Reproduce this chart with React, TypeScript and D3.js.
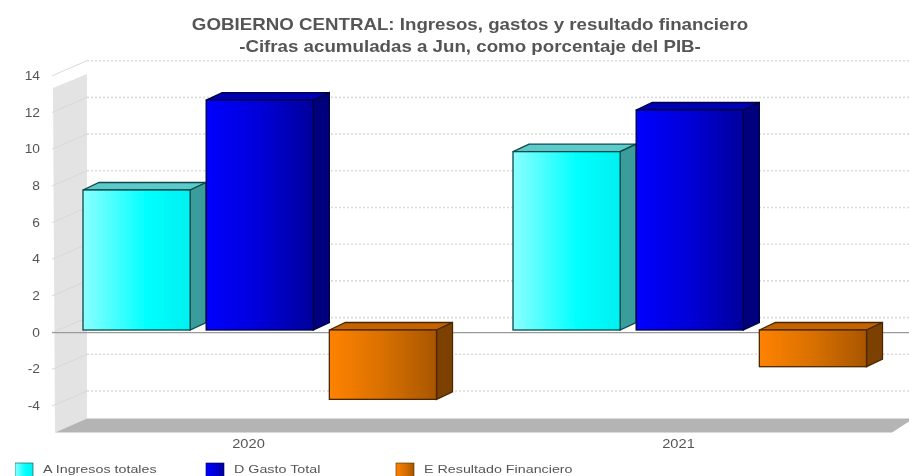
import React from "react";
import * as d3 from "d3";

const years = ["2020", "2021"];
const seriesNames = ["A Ingresos totales", "D Gasto Total", "E Resultado Financiero"];
const ingresos = [7.63, 9.72];
const gasto = [12.53, 11.99];
const resultado = [-3.78, -2.0];
const yTicks = [14, 12, 10, 8, 6, 4, 2, 0, -2, -4];
const titleLines = [
  "GOBIERNO CENTRAL: Ingresos, gastos y resultado financiero",
  "-Cifras acumuladas a Jun, como porcentaje del PIB-",
];

const seriesValues = [ingresos, gasto, resultado];
const looks = [
  { c0: "#8cffff", c1: "#00ffff", c2: "#00f0f0", side: "#3a9c9c", top: "#5ccaca", edge: "#0a4a4a" },
  { c0: "#0000ff", c1: "#0000d8", c2: "#00009c", side: "#00007e", top: "#0000b4", edge: "#000040" },
  { c0: "#ff8200", c1: "#d87000", c2: "#a85600", side: "#7c4000", top: "#c46400", edge: "#4a2800" },
];

const W = 909;
const H = 476;
const FONT = "'Liberation Sans', Arial, sans-serif";

const y = d3.scaleLinear().domain([0, 14]).range([0, -256.9]);
const yBack = (v: number) => 317.6 + y(v);
const yFront = (v: number) => 332.7 + y(v);
const yBar = (v: number) => 330 + y(v);

const xGroup = d3.scaleBand().domain(years).range([33, 893]);
const xBar = d3.scaleBand().domain(seriesNames).range([50, 403.5]).paddingInner(0.13).paddingOuter(0);

const depthX = 16;
const depthY = 7.5;

function Label({ x, y: ty, sx, size, anchor, weight, children }: any) {
  return (
    <text
      transform={`translate(${x},${ty}) scale(${sx},1)`}
      textAnchor={anchor}
      fontFamily={FONT}
      fontSize={size}
      fontWeight={weight}
      fill="#555"
    >
      {children}
    </text>
  );
}

function Bar({ year, yearIdx, sIdx }: { year: string; yearIdx: number; sIdx: number }) {
  const name = seriesNames[sIdx];
  const v = seriesValues[sIdx][yearIdx];
  const look = looks[sIdx];
  const x0 = (xGroup(year) as number) + (xBar(name) as number);
  const w = xBar.bandwidth();
  const yTop = Math.min(yBar(v), yBar(0));
  const yBot = Math.max(yBar(v), yBar(0));
  const topPts = [
    [x0, yTop],
    [x0 + depthX, yTop - depthY],
    [x0 + w + depthX, yTop - depthY],
    [x0 + w, yTop],
  ];
  const sidePts = [
    [x0 + w, yTop],
    [x0 + w + depthX, yTop - depthY],
    [x0 + w + depthX, yBot - depthY],
    [x0 + w, yBot],
  ];
  const pts = (p: number[][]) => p.map((q) => q.join(",")).join(" ");
  return (
    <g stroke={look.edge} strokeWidth={1.3}>
      <polygon points={pts(topPts)} fill={look.top} />
      <polygon points={pts(sidePts)} fill={look.side} />
      <rect x={x0} y={yTop} width={w} height={yBot - yTop} fill={`url(#grad${sIdx})`} />
    </g>
  );
}

export default function App() {
  const floorBack = yBack(-5.5);
  return (
    <svg
      width={W}
      height={H}
      viewBox={`0 0 ${W} ${H}`}
      style={{ position: "absolute", left: 0, top: 0, background: "#fff" }}
    >
      <defs>
        {looks.map((l, i) => (
          <linearGradient key={i} id={`grad${i}`} x1="0" x2="1" y1="0" y2="0">
            <stop offset="0" stopColor={l.c0} />
            <stop offset={i === 0 ? "0.6" : "0.5"} stopColor={l.c1} />
            <stop offset="1" stopColor={l.c2} />
          </linearGradient>
        ))}
        <filter id="soft" x="0" y="0" width="100%" height="100%">
          <feGaussianBlur stdDeviation="0.7" />
        </filter>
      </defs>
      <g filter="url(#soft)">
        {/* left wall */}
        <polygon
          points={`53,88 87,74 87,${floorBack} 55,${floorBack + 14}`}
          fill="#e3e3e3"
        />
        {/* floor */}
        <polygon
          points={`87,${floorBack} 909,${floorBack} 909,${floorBack + 3} 892,${floorBack + 14} 55,${floorBack + 14}`}
          fill="#b4b4b4"
        />
        {/* gridlines and slanted ticks */}
        {yTicks.map((t) => (
          <g key={t}>
            <line
              x1={87}
              x2={909}
              y1={yBack(t)}
              y2={yBack(t)}
              stroke="#dcdcdc"
              strokeWidth={1.6}
              strokeDasharray="2 2"
            />
            <line x1={52} x2={87} y1={yFront(t)} y2={yBack(t)} stroke="#d8d8d8" strokeWidth={1} />
            <Label x={40} y={yFront(t) + 4} sx={1.15} size={12} anchor="end">
              {t}
            </Label>
          </g>
        ))}
        {/* zero line */}
        <line x1={52} x2={909} y1={yFront(0)} y2={yFront(0)} stroke="#9a9a9a" strokeWidth={1.3} />
        {/* bars */}
        {years.map((yr, yi) =>
          seriesNames.map((_, si) => <Bar key={`${yr}-${si}`} year={yr} yearIdx={yi} sIdx={si} />)
        )}
        {/* category labels */}
        {years.map((yr) => (
          <Label
            key={yr}
            x={(xGroup(yr) as number) + xGroup.bandwidth() / 2 + 0.5}
            y={448}
            sx={1.22}
            size={12}
            anchor="middle"
          >
            {yr}
          </Label>
        ))}
        {/* title */}
        {titleLines.map((line, i) => (
          <Label key={i} x={470} y={30 + i * 21.5} sx={1.17} size={16} anchor="middle" weight="bold">
            {line}
          </Label>
        ))}
        {/* legend */}
        {seriesNames.map((name, i) => {
          const lx = [15, 206, 396][i];
          return (
            <g key={name}>
              <rect
                x={lx}
                y={463}
                width={18}
                height={16}
                fill={`url(#grad${i})`}
                stroke={looks[i].edge}
                strokeWidth={0.6}
              />
              <Label x={lx + 28} y={472.5} sx={1.3} size={11} anchor="start">
                {name}
              </Label>
            </g>
          );
        })}
      </g>
    </svg>
  );
}
